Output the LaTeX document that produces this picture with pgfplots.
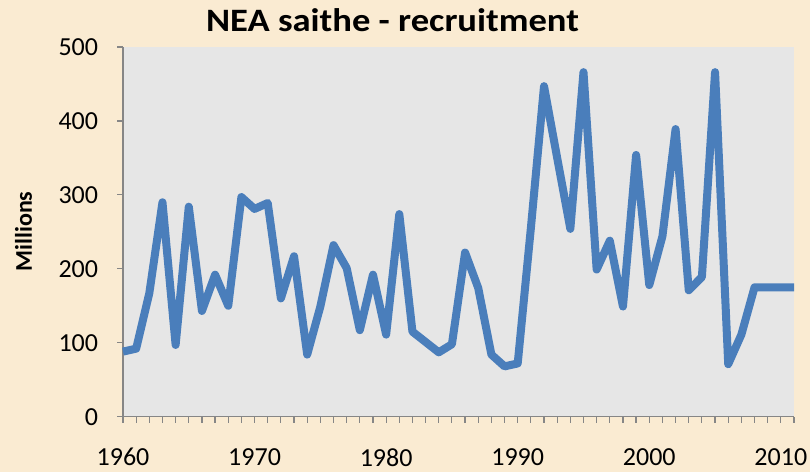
\documentclass[border=0pt]{standalone}
\usepackage{pgfplots}
\pgfplotsset{compat=1.18}
\usepackage{fontspec}
\setmainfont{Carlito}
\definecolor{cream}{HTML}{FAEBD2}
\definecolor{plotgray}{HTML}{E6E6E6}
\definecolor{axgray}{HTML}{868686}
\definecolor{lineblue}{HTML}{4A7EBB}
\begin{document}
\begin{tikzpicture}
\path[use as bounding box, fill=cream] (0,0) rectangle (607.5pt,354pt);
\begin{axis}[
  at={(92.25pt,41.5pt)}, anchor=south west,
  scale only axis, width=503.25pt, height=277.25pt,
  xmin=1960, xmax=2011, ymin=0, ymax=500,
  axis x line=bottom, axis y line=left,
  axis line style={-, draw=axgray, line width=0.9pt},
  axis background/.style={fill=plotgray},
  xtick={1960,1970,...,2010}, minor xtick={1960,...,2011},
  ytick={0,100,...,500},
  tick align=outside,
  major tick length=4.5pt, minor tick length=4.5pt,
  tick style={draw=axgray, line width=0.9pt},
  /pgf/number format/assume math mode=true,
  /pgf/number format/1000 sep={},
  ticklabel style={font=\fontsize{19.5}{23}\selectfont},
  yticklabel style={anchor=east, inner sep=0pt, xshift=-14pt},
  xticklabel style={anchor=north, inner sep=0pt, yshift=-19pt},
  clip=false,
]
\addplot[lineblue, line width=6pt, line join=round, mark=none] coordinates {
(1960,88) (1961,92) (1962,167) (1963,290) (1964,97) (1965,284) (1966,143)
(1967,192) (1968,150) (1969,297) (1970,281) (1971,289) (1972,160) (1973,217)
(1974,84) (1975,149) (1976,232) (1977,201) (1978,117) (1979,192) (1980,111)
(1981,274) (1982,115) (1983,101) (1984,87) (1985,98) (1986,222) (1987,174)
(1988,84) (1989,68) (1990,72) (1991,255) (1992,447) (1993,350) (1994,254)
(1995,466) (1996,199) (1997,238) (1998,149) (1999,354) (2000,178) (2001,244)
(2002,389) (2003,171) (2004,189) (2005,466) (2006,71) (2007,111) (2008,175)
(2009,175) (2010,175) (2011,175)
};
\end{axis}
\node[font=\bfseries\fontsize{24.5}{29}\selectfont, anchor=base, xscale=1.12] at (294.4pt,330.2pt) {NEA saithe - recruitment};
\node[rotate=90, font=\bfseries\fontsize{18}{21}\selectfont] at (17.6pt,180.4pt) {Millions};
\end{tikzpicture}
\end{document}
